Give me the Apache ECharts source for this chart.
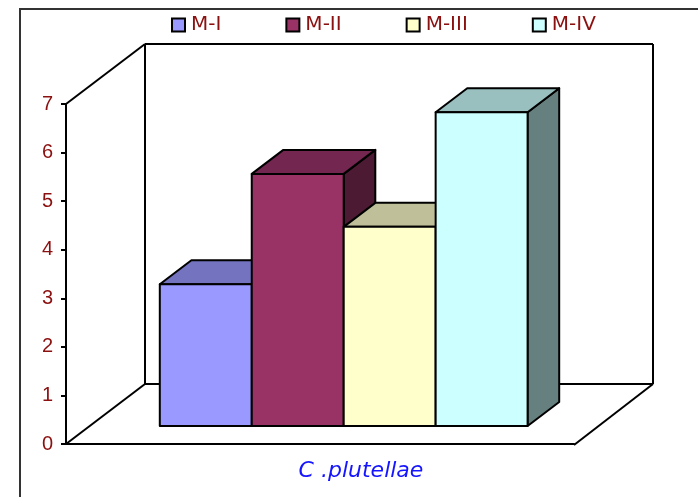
<!DOCTYPE html>
<html>
<head>
<meta charset="utf-8">
<style>
html,body{margin:0;padding:0;background:#fff;}
#c{width:698px;height:497px;filter:blur(0.5px);}
</style>
<script src="https://cdn.jsdelivr.net/npm/echarts@6/dist/echarts.min.js"></script>
</head>
<body>
<div id="c"></div>
<script>
var categories = ['C .plutellae'];
var seriesNames = ['M-I', 'M-II', 'M-III', 'M-IV'];
var seriesValues = [2.92, 5.19, 4.10, 6.46];
var yTicks = { min: 0, max: 7, interval: 1 };
var frontColors = ['#9999FF', '#993366', '#FFFFCC', '#CCFFFF'];
var topColors = ['#7373BF', '#732650', '#BFBF99', '#99BFBF'];
var sideColors = ['#4D4D80', '#4D1A33', '#808066', '#668080'];

var INK = '#000';
var LINE = 2;
var DEPTH_X = 79, DEPTH_Y = -60;      // projected depth of the whole floor
var FRONT = 0.3, BAR_DEPTH = 0.4;     // where bars sit along that depth
var BAR_SHARE = 0.181;                // bar width as a share of the category band

function wallsItem(params, api) {
  var o = api.coord([0, yTicks.min]);
  var t = api.coord([0, yTicks.max]);
  var w = api.size([1, 0])[0];
  var x0 = o[0] - w / 2, x1 = o[0] + w / 2, yb = o[1], yt = t[1];
  var ls = { stroke: INK, lineWidth: LINE, fill: null };
  function line(a, b, c, d) {
    return { type: 'line', shape: { x1: a, y1: b, x2: c, y2: d }, style: ls, silent: true };
  }
  return {
    type: 'group',
    children: [
      line(x0 + DEPTH_X, yt + DEPTH_Y, x1 + DEPTH_X, yt + DEPTH_Y),
      line(x0 + DEPTH_X, yt + DEPTH_Y, x0 + DEPTH_X, yb + DEPTH_Y),
      line(x1 + DEPTH_X, yt + DEPTH_Y, x1 + DEPTH_X, yb + DEPTH_Y),
      line(x0 + DEPTH_X, yb + DEPTH_Y, x1 + DEPTH_X, yb + DEPTH_Y),
      line(x0, yt, x0 + DEPTH_X, yt + DEPTH_Y),
      line(x0, yb, x0 + DEPTH_X, yb + DEPTH_Y),
      line(x1, yb + 1, x1 + DEPTH_X, yb + DEPTH_Y)
    ]
  };
}

function barItem(index) {
  return function (params, api) {
    var top = api.coord([0, api.value(1)]);
    var base = api.coord([0, 0]);
    var band = api.size([1, 0])[0];
    var bw = band * BAR_SHARE;
    var fx = FRONT * DEPTH_X, fy = FRONT * DEPTH_Y;
    var dx = BAR_DEPTH * DEPTH_X, dy = BAR_DEPTH * DEPTH_Y;
    var left = base[0] + fx + (index - seriesNames.length / 2) * bw;
    var right = left + bw;
    var yt = top[1] + fy, yb = base[1] + fy;
    var stroke = { stroke: INK, lineWidth: LINE, lineJoin: 'round' };
    function poly(pts, fill) {
      return { type: 'polygon', shape: { points: pts }, style: Object.assign({ fill: fill }, stroke) };
    }
    return {
      type: 'group',
      children: [
        poly([[right, yt], [right + dx, yt + dy], [right + dx, yb + dy], [right, yb]], sideColors[index]),
        poly([[left, yt], [left + dx, yt + dy], [right + dx, yt + dy], [right, yt]], topColors[index]),
        poly([[left, yt], [right, yt], [right, yb], [left, yb]], frontColors[index])
      ]
    };
  };
}

var series = [{
  type: 'custom', name: 'walls', silent: true, renderItem: wallsItem,
  data: [[0, yTicks.max]], encode: { x: 0, y: 1 }, clip: false
}];
seriesNames.forEach(function (name, i) {
  series.push({
    type: 'custom', name: name, renderItem: barItem(i), clip: false,
    itemStyle: { color: frontColors[i], borderColor: INK, borderWidth: LINE },
    data: [[0, seriesValues[i]]], encode: { x: 0, y: 1 }
  });
});

var chart = echarts.init(document.getElementById('c'), null, { renderer: 'canvas' });
chart.setOption({
  animation: false,
  backgroundColor: '#fff',
  grid: { left: 66, width: 508, top: 104, height: 340 },
  legend: {
    data: seriesNames, left: 166, top: 10, icon: 'rect', itemWidth: 13, itemHeight: 13,
    itemGap: 64, itemStyle: { borderColor: INK, borderWidth: LINE },
    textStyle: { color: '#8B1010', fontSize: 20, fontFamily: 'DejaVu Sans', padding: [0, 0, 0, 1] }
  },
  xAxis: {
    type: 'category', data: categories,
    axisLine: { show: true, lineStyle: { color: INK, width: LINE } },
    axisTick: { show: false },
    axisLabel: {
      color: '#1515FF', fontSize: 22, fontStyle: 'italic', fontFamily: 'DejaVu Sans',
      margin: 16, padding: [0, 0, 0, 82], interval: 0
    }
  },
  yAxis: {
    type: 'value', min: yTicks.min, max: yTicks.max, interval: yTicks.interval,
    splitLine: { show: false },
    axisLine: { show: true, lineStyle: { color: INK, width: LINE } },
    axisTick: { show: true, length: 5, lineStyle: { color: INK, width: LINE } },
    axisLabel: { color: '#8B1010', fontSize: 20, fontFamily: 'Liberation Sans', margin: 13 }
  },
  graphic: [{
    type: 'polyline', silent: true,
    shape: { points: [[20, 497], [20, 9], [698, 9]] },
    style: { stroke: '#333', lineWidth: 2, fill: null }
  }],
  series: series
});
</script>
</body>
</html>
